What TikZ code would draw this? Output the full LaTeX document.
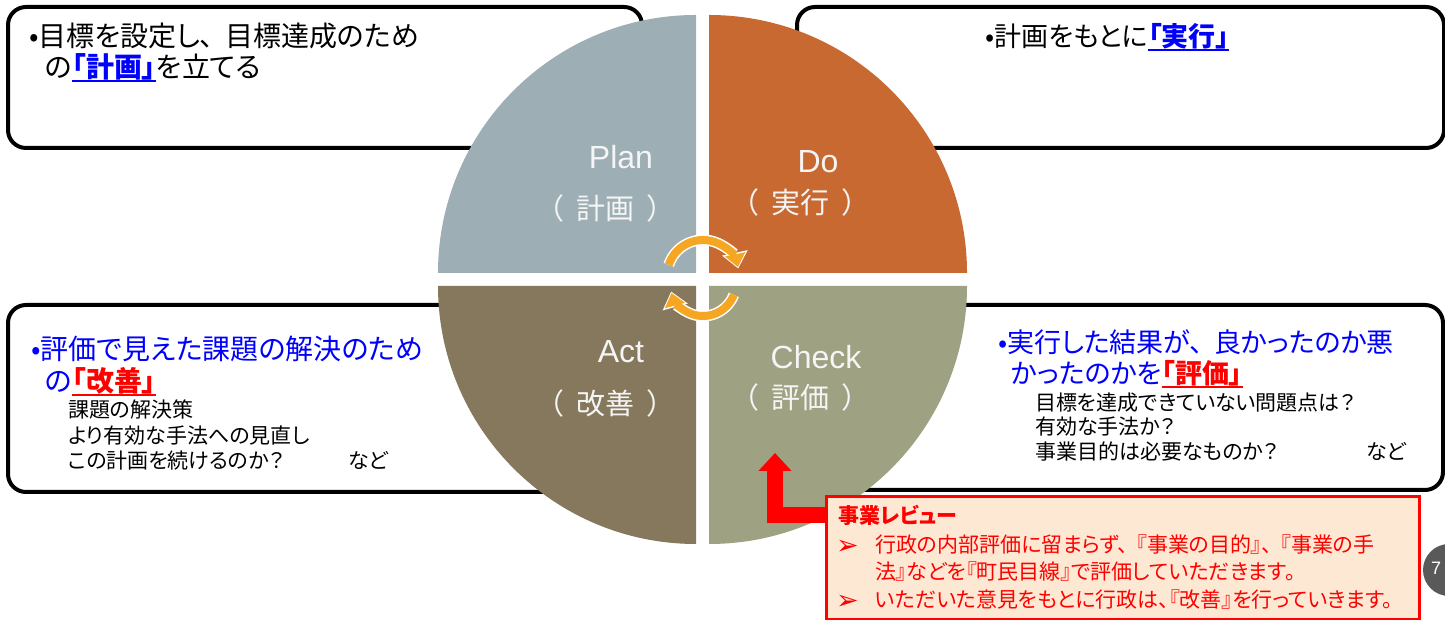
\documentclass[tikz,border=0pt]{standalone}
\usepackage{fontspec}
\setmainfont{Noto Sans CJK JP}[RawFeature=+palt]
\newfontfamily\lat{Liberation Sans}
\newfontfamily\dv{DejaVu Sans}
\usetikzlibrary{arrows.meta}
\definecolor{cplan}{RGB}{157,174,180}
\definecolor{cdo}{RGB}{200,105,50}
\definecolor{cact}{RGB}{133,120,92}
\definecolor{ccheck}{RGB}{158,162,130}
\definecolor{corange}{RGB}{245,166,35}
\definecolor{cpeach}{RGB}{253,233,211}
\definecolor{clbl}{RGB}{245,245,245}
\newcommand\fsz[1]{\fontsize{#1}{#1}\selectfont}
\newcommand\gap{\hspace{0.45em}}
\newsavebox\ulbox
\newcommand\ulc[1]{\sbox\ulbox{#1}\rlap{\usebox\ulbox}\rule[-4pt]{\wd\ulbox}{2pt}}
\tikzset{
  box/.style={draw=black, line width=4pt, rounded corners=18pt, fill=white, inner sep=0pt, anchor=north west},
  redbox/.style={draw=red, line width=3pt, fill=cpeach, inner sep=0pt, anchor=north west},
  txt/.style={inner sep=0pt, anchor=base west},
  lbl/.style={inner sep=0pt, text=clbl},
  cyclewhite/.style={draw=white, line width=11pt, -{Triangle[width=25pt,length=16pt]}},
  cycleorange/.style={draw=corange, line width=8pt, shorten >=1.5pt, -{Triangle[width=20pt,length=13pt]}},
  redarrow/.style={draw=red, line width=16pt, miter limit=10, -{Triangle[width=32pt,length=18pt]}},
}
\begin{document}
\begin{tikzpicture}[x=1pt,y=1pt]
\useasboundingbox (0,0) rectangle (1445,620);
\fill[white] (0,0) rectangle (1445,620);
% text boxes
\node[box, minimum width=634pt, minimum height=141pt] (tlbox) at (6,615) {};
\node[box, minimum width=647pt, minimum height=141pt] (trbox) at (795,615) {};
\node[box, minimum width=594pt, minimum height=187pt] (blbox) at (6,317) {};
\node[box, minimum width=641pt, minimum height=185pt] (brbox) at (800,317) {};
% quadrants
\fill[cplan] (696,347) -- (438,347) arc[start angle=180,end angle=90,radius=258pt] -- cycle;
\fill[cdo] (709,347) -- (709,605) arc[start angle=90,end angle=0,radius=258pt] -- cycle;
\fill[ccheck] (709,334) -- (967,334) arc[start angle=0,end angle=-90,radius=258pt] -- cycle;
\fill[cact] (696,334) -- (696,76) arc[start angle=270,end angle=180,radius=258pt] -- cycle;
% cycle arrows
\coordinate (ta) at ({703+36*cos(162)},{344+36*sin(162)});
\coordinate (ba) at ({703+33*cos(-21)},{337+33*sin(-21)});
\draw[cyclewhite] (ta) arc[start angle=162,end angle=12,radius=36pt];
\draw[cycleorange] (ta) arc[start angle=162,end angle=12,radius=36pt];
\draw[cyclewhite] (ba) arc[start angle=-21,end angle=-165,radius=33pt];
\draw[cycleorange] (ba) arc[start angle=-21,end angle=-165,radius=33pt];
% quadrant labels
\node[lbl, font=\lat\fsz{32}] (plan) at (621,463) {Plan};
\node[lbl, font=\fsz{29}] (planj) at (605,412) {（\gap 計画\gap ）};
\node[lbl, font=\lat\fsz{32}] (do) at (818,458) {Do};
\node[lbl, font=\fsz{29}] (doj) at (800,418) {（\gap 実行\gap ）};
\node[lbl, font=\lat\fsz{32}] (act) at (621,268) {Act};
\node[lbl, font=\fsz{29}] (actj) at (605,217) {（\gap 改善\gap ）};
\node[lbl, font=\lat\fsz{32}] (check) at (816,263) {Check};
\node[lbl, font=\fsz{29}] (checkj) at (800,223) {（\gap 評価\gap ）};
% top-left text
\node[txt, font=\fsz{28}] (tl1) at (29,573) {•目標を設定し、\hspace{0.4em}目標達成のため};
\node[txt, font=\fsz{28}] (tl2) at (45,542) {の{\color{blue}\bfseries\ulc{「計画」}}を立てる};
% top-right text
\node[txt, font=\fsz{27}] (tr1) at (985,573) {•計画をもとに{\color{blue}\bfseries\ulc{「実行」}}};
% bottom-left text
\node[txt, font=\fsz{28}, text=blue] (bl1) at (31,260) {•評価で見えた課題の解決のため};
\node[txt, font=\fsz{28}, text=blue] (bl2) at (45,228) {の{\color{red}\bfseries\ulc{「改善」}}};
\node[txt, font=\fsz{21}] (bl3) at (68,202) {課題の解決策};
\node[txt, font=\fsz{21}] (bl4) at (68,176) {より有効な手法への見直し};
\node[txt, font=\fsz{21}] (bl5) at (68,151) {この計画を続けるのか？};
\node[txt, font=\fsz{21}] (bl6) at (348,151) {など};
% bottom-right text
\node[txt, font=\fsz{27}, text=blue] (br1) at (998,267) {•実行した結果が、\hspace{0.4em}良かったのか悪};
\node[txt, font=\fsz{27}, text=blue] (br2) at (1011,236) {かったのかを{\color{red}\bfseries\ulc{「評価」}}};
\node[txt, font=\fsz{21}] (br3) at (1035,209) {目標を達成できていない問題点は？};
\node[txt, font=\fsz{21}] (br4) at (1035,185) {有効な手法か？};
\node[txt, font=\fsz{21}] (br5) at (1035,160) {事業目的は必要なものか？};
\node[txt, font=\fsz{21}] (br6) at (1366,160) {など};
% review box
\node[redbox, minimum width=593pt, minimum height=123pt] (rev) at (825,125) {};
\node[txt, font=\fsz{21}\bfseries, text=red] (rv1) at (838,96) {事業レビュー};
\node[txt, font=\dv\fsz{27}, text=red] (rv2) at (836,65) {➢};
\node[txt, font=\fsz{21}, text=red] (rv3) at (875,67) {行政の内部評価に留まらず、\hspace{0.4em}『事業の目的』、\hspace{0.4em}『事業の手};
\node[txt, font=\fsz{21}, text=red] (rv4) at (875,40) {法』などを『町民目線』で評価していただきます。};
\node[txt, font=\dv\fsz{27}, text=red] (rv5) at (836,10) {➢};
\node[txt, font=\fsz{21}, text=red] (rv6) at (875,12) {いただいた意見をもとに行政は、『改善』を行っていきます。};
% red arrow
\coordinate (rtip) at (775,167);
\draw[redarrow] (rev.west |- 0,105) -| (rtip);
% page marker
\fill[black!65] (1449,50) circle[radius=26pt];
\node[inner sep=0pt, anchor=west, text=white, font=\lat\fsz{18}] (pg) at (1431,52) {7};
\end{tikzpicture}
\end{document}
